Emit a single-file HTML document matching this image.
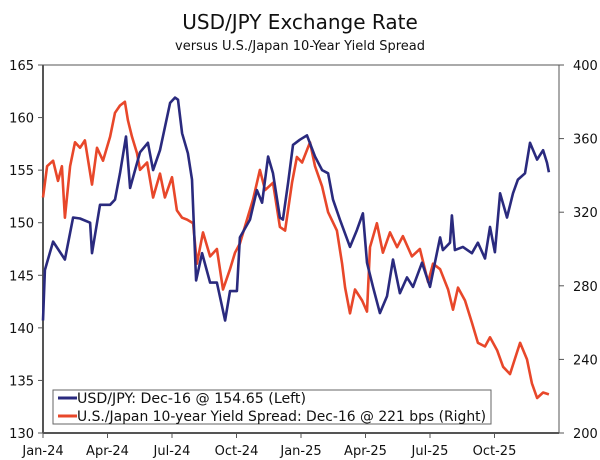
<!DOCTYPE html>
<html><head><meta charset="utf-8">
<style>
html,body{margin:0;padding:0;background:#fff;}
svg{display:block;font-family:"DejaVu Sans","Liberation Sans",sans-serif;}
</style></head>
<body>
<svg id="chart" width="600" height="460" viewBox="0 0 600 460" xmlns="http://www.w3.org/2000/svg">
<text x="300" y="29" text-anchor="middle" font-size="20" fill="#111">USD/JPY Exchange Rate</text>
<text x="300" y="50" text-anchor="middle" font-size="13" fill="#111">versus U.S./Japan 10-Year Yield Spread</text>
<g id="axes"></g>
<g id="series"></g>
<g>
<rect x="53" y="390" width="438" height="34" fill="#fff" stroke="#666" stroke-width="1"/>
<line x1="58" y1="398" x2="77" y2="398" stroke="#2a2a7e" stroke-width="3"/>
<text x="77" y="403" font-size="14" textLength="229" lengthAdjust="spacingAndGlyphs" fill="#111">USD/JPY: Dec-16 @ 154.65 (Left)</text>
<line x1="58" y1="416" x2="77" y2="416" stroke="#e8472a" stroke-width="3"/>
<text x="77" y="421" font-size="14" textLength="409" lengthAdjust="spacingAndGlyphs" fill="#111">U.S./Japan 10-year Yield Spread: Dec-16 @ 221 bps (Right)</text>
</g>
</svg>
<script>
// month offsets from Jan-2024
const usdMonths=[0,.09,.47,1.02,1.40,1.72,2.19,2.28,2.65,3.12,3.35,3.58,3.86,4.05,4.51,4.88,5.12,5.44,5.91,6.14,6.28,6.47,6.74,6.93,7.12,7.40,7.77,8.09,8.47,8.70,9.02,9.16,9.63,9.95,10.19,10.47,10.70,11.02,11.16,11.40,11.63,11.95,12.28,12.65,12.98,13.26,13.49,13.81,14.28,14.60,14.88,15.07,15.35,15.67,16.0,16.28,16.60,16.93,17.21,17.63,18.0,18.23,18.47,18.60,18.93,19.02,19.16,19.53,19.95,20.23,20.56,20.79,21.02,21.26,21.58,21.86,22.09,22.42,22.65,22.98,23.26,23.44,23.53];
const usdValues=[140.7,145.5,148.2,146.5,150.5,150.4,150.0,147.1,151.7,151.7,152.2,154.7,158.2,153.3,156.7,157.6,155.0,156.9,161.4,161.9,161.7,158.5,156.6,154.1,144.5,147.1,144.3,144.3,140.7,143.5,143.5,148.6,150.3,153.1,151.9,156.3,154.7,150.5,150.3,153.8,157.4,157.9,158.3,156.3,155.0,154.7,152.2,150.3,147.7,149.3,150.9,146.2,143.9,141.4,143.0,146.5,143.3,144.8,143.9,146.2,143.9,146.2,148.6,147.4,148.1,150.7,147.4,147.7,147.1,148.1,146.6,149.6,147.2,152.8,150.5,152.8,154.1,154.7,157.6,156.0,156.9,155.7,154.8];
const spreadMonths=[0,.19,.47,.70,.88,1.02,1.26,1.49,1.72,1.95,2.28,2.51,2.79,3.12,3.35,3.58,3.81,3.95,4.14,4.37,4.51,4.84,5.12,5.44,5.67,6.0,6.23,6.47,6.70,6.98,7.16,7.44,7.77,8.09,8.37,8.70,8.93,9.16,9.49,9.77,10.09,10.33,10.70,11.02,11.26,11.58,11.81,12.05,12.42,12.65,12.98,13.26,13.67,13.91,14.05,14.28,14.51,14.84,15.07,15.21,15.53,15.81,16.14,16.47,16.74,17.16,17.53,17.91,18.14,18.47,18.84,19.07,19.30,19.63,19.95,20.23,20.56,20.79,21.12,21.40,21.72,22.05,22.19,22.51,22.74,22.98,23.26,23.53];
const spreadValues=[328,345,348,337,345,317,345,358,355,359,335,355,348,361,374,378,380,370,361,352,343,347,328,341,328,339,321,317,316,314,292,309,296,300,278,289,298,303,316,327,343,332,336,312,310,336,350,347,358,345,334,320,310,292,279,265,278,272,266,301,314,298,309,301,307,296,300,282,292,289,278,267,279,272,260,249,247,252,245,236,232,244,249,240,227,219,222,221];
const xTickLabels=["Jan-24","Apr-24","Jul-24","Oct-24","Jan-25","Apr-25","Jul-25","Oct-25"];
const xTickMonths=[0,3,6,9,12,15,18,21];
const leftTicks=[130,135,140,145,150,155,160,165];
const rightTicks=[200,240,280,320,360,400];

const X0=43,X1=559,Y0=65,Y1=433;
const xS=m=>X0+m*(X1-X0)/24;
const yL=v=>Y1-(v-130)*(Y1-Y0)/35;
const yR=v=>Y1-(v-200)*(Y1-Y0)/200;
const NS="http://www.w3.org/2000/svg";
const ax=document.getElementById('axes'),se=document.getElementById('series');
function mk(tag,attrs,parent){const e=document.createElementNS(NS,tag);for(const k in attrs)e.setAttribute(k,attrs[k]);parent.appendChild(e);return e;}

let e=mk('path',{d:`M${X0},${Y0}H${X1}V${Y1}H${X0}Z`,fill:'none',stroke:'#555','stroke-width':1},ax);


e=mk('line',{x1:X0,y1:Y0,x2:X0,y2:Y1,stroke:'#555','stroke-width':2},ax);


e=mk('line',{x1:X0,y1:Y1,x2:X1,y2:Y1,stroke:'#555','stroke-width':2},ax);



leftTicks.forEach(v=>{const y=yL(v);
 const t=mk('line',{x1:X0-5,y1:y,x2:X0,y2:y,stroke:'#555','stroke-width':1},ax);
 
 
 const l=mk('text',{x:X0-9,y:y+5,'text-anchor':'end','font-size':13,fill:'#111'},ax);l.textContent=v;
 
 });
rightTicks.forEach(v=>{const y=yR(v);
 const t=mk('line',{x1:X1,y1:y,x2:X1+5,y2:y,stroke:'#555','stroke-width':1},ax);
 
 
 const l=mk('text',{x:X1+14,y:y+5,'text-anchor':'start','font-size':13,fill:'#111'},ax);l.textContent=v;
 
 });
xTickMonths.forEach((m,i)=>{const x=xS(m);
 const t=mk('line',{x1:x,y1:Y1,x2:x,y2:Y1+5,stroke:'#555','stroke-width':1},ax);
 
 
 const l=mk('text',{x:x,y:Y1+22,'text-anchor':'middle','font-size':13,fill:'#111'},ax);l.textContent=xTickLabels[i];
 
 });

let d=spreadMonths.map((m,i)=>(i?'L':'M')+xS(m).toFixed(1)+','+yR(spreadValues[i]).toFixed(1)).join('');
e=mk('path',{d:d,fill:'none',stroke:'#e8472a','stroke-width':2.6,'stroke-linejoin':'round'},se);


d=usdMonths.map((m,i)=>(i?'L':'M')+xS(m).toFixed(1)+','+yL(usdValues[i]).toFixed(1)).join('');
e=mk('path',{d:d,fill:'none',stroke:'#2a2a7e','stroke-width':2.6,'stroke-linejoin':'round'},se);


</script>
</body></html>
